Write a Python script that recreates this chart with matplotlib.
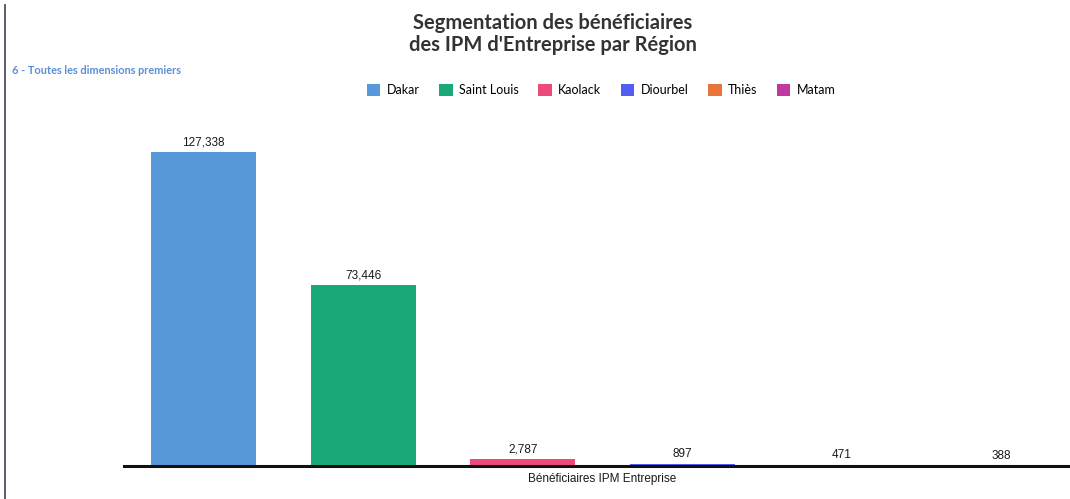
import matplotlib.pyplot as plt
from matplotlib.patches import Patch
from matplotlib.lines import Line2D

regions = ["Dakar", "Saint Louis", "Kaolack", "Diourbel", "Thiès", "Matam"]
values = [127338, 73446, 2787, 897, 471, 388]
colors = ["#5899DA", "#19A979", "#ED4A7B", "#525DF4", "#E8743B", "#BF399E"]

W, H = 1070, 499
fig = plt.figure(figsize=(W / 100, H / 100), dpi=100)

# axes reaches past the right edge, like the original
ax = fig.add_axes([124 / W, 33 / H, 957 / W, 345.2 / H])
x = list(range(len(regions)))
bars = ax.bar(x, values, width=0.66, color=colors)
ax.set_xlim(-0.5, len(regions) - 0.5)
ax.set_ylim(0, 140000)

label_font = "Liberation Sans"
for b, v in zip(bars, values):
    ax.annotate(f"{v:,}", (b.get_x() + b.get_width() / 2, v),
                xytext=(0, 2.5), textcoords="offset points",
                ha="center", va="bottom", fontsize=8.5, color="#1a1a1a",
                family=label_font)

for s in ["top", "right", "left"]:
    ax.spines[s].set_visible(False)
ax.spines["bottom"].set_linewidth(2.2)
ax.spines["bottom"].set_color("#111111")
ax.set_xticks([])
ax.set_yticks([])
ax.set_xlabel("Bénéficiaires IPM Entreprise", fontsize=8.5, color="#1a1a1a",
              family=label_font, labelpad=5)

fig.text(553 / W, 1 - 34 / H,
         "Segmentation des bénéficiaires\ndes IPM d'Entreprise par Région",
         ha="center", va="center", fontsize=14.5, fontweight="bold",
         color="#333333", family="Lato", linespacing=1.15)

fig.text(12 / W, 1 - 70 / H, "6 - Toutes les dimensions premiers",
         ha="left", va="center", fontsize=7.9, fontweight="bold",
         color="#5B8FD6", family="Lato")

handles = [Patch(facecolor=c, edgecolor="none") for c in colors]
fig.legend(handles, regions, loc="center", bbox_to_anchor=(601 / W, 1 - 90 / H),
           ncol=len(regions), frameon=False,
           handlelength=1.1, handleheight=1.1, handletextpad=0.5,
           columnspacing=1.55, prop={"family": "Lato", "size": 9})

fig.add_artist(Line2D([5 / W, 5 / W], [0, 1 - 5 / H], transform=fig.transFigure,
                      color="#4a5260", linewidth=1.3))

fig.savefig("out.png", dpi=100)
